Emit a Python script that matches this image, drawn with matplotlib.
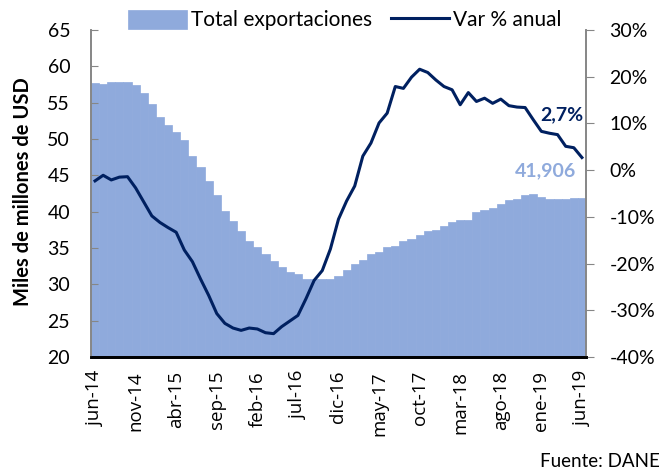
import numpy as np
import matplotlib
matplotlib.use('Agg')
import matplotlib.pyplot as plt
from matplotlib.ticker import FuncFormatter

plt.rcParams['font.family'] = ['Lato', 'DejaVu Sans']

# monthly data jun-14 .. jun-19
months = ['jun', 'jul', 'ago', 'sep', 'oct', 'nov', 'dic', 'ene', 'feb', 'mar', 'abr', 'may']
periods = []
year = 14
for i in range(61):
  m = months[i % 12]
  if m == 'ene':
    year += 1
  periods.append(m + '-' + str(year))

# exportaciones totales, miles de millones de USD (12 meses)
exports = [57.7, 57.6, 57.9, 57.8, 57.9, 57.4, 56.3, 54.8, 53.0, 51.9,
           51.0, 49.8, 47.7, 46.2, 44.2, 42.3, 40.1, 38.7, 37.3, 36.0,
           35.1, 34.2, 33.2, 32.4, 31.7, 31.4, 30.7, 30.7, 30.7, 30.7,
           31.1, 32.0, 32.8, 33.3, 34.2, 34.4, 35.2, 35.3, 36.0, 36.2,
           36.8, 37.3, 37.5, 38.0, 38.6, 38.8, 38.9, 39.9, 40.2, 40.5,
           41.1, 41.6, 41.8, 42.3, 42.4, 42.0, 41.7, 41.8, 41.8, 41.9,
           41.906]

# variacion % anual
var_anual = [-2.3, -1.1, -2.1, -1.5, -1.4, -3.8, -6.8, -9.8, -11.2, -12.3,
             -13.3, -17.1, -19.6, -23.3, -26.8, -30.7, -32.8, -33.8, -34.3, -33.8,
             -34.0, -34.8, -35.0, -33.5, -32.3, -31.1, -27.5, -23.6, -21.5, -16.9,
             -10.5, -6.6, -3.4, 3.0, 5.8, 10.1, 12.2, 17.9, 17.5, 19.9,
             21.6, 20.9, 19.3, 17.9, 17.2, 14.0, 16.6, 14.7, 15.4, 14.3,
             15.2, 13.8, 13.5, 13.4, 10.8, 8.3, 7.9, 7.6, 5.1, 4.8,
             2.7]

area_color = '#8faadc'
line_color = '#002060'
axis_gray = '#868686'

x = np.arange(len(periods))

fig = plt.figure(figsize=(6.71, 4.76), dpi=100)
ax = fig.add_axes([0.1356, 0.25, 0.7377, 0.687])
ax2 = ax.twinx()

bars = ax.bar(x, exports, width=1.0, color=area_color, edgecolor=area_color,
              linewidth=0.5, label='Total exportaciones')
line, = ax2.plot(x, var_anual, color=line_color, linewidth=2.2, label='Var % anual')

ax.set_xlim(-0.5, len(periods) - 0.5)
ax.set_ylim(20, 65)
ax.set_yticks(range(20, 66, 5))
ax2.set_ylim(-40, 30)
ax2.set_yticks(range(-40, 31, 10))
ax2.yaxis.set_major_formatter(FuncFormatter(lambda v, p: '%d%%' % v))

ax.set_xticks(x[::5])
ax.set_xticklabels(periods[::5], rotation=90, fontsize=13.5, family=['Open Sans', 'DejaVu Sans'])
ax.tick_params(axis='x', length=0, pad=10)
ax.tick_params(axis='y', direction='in', length=5, color=axis_gray, labelsize=14, pad=15)
ax2.tick_params(axis='y', direction='out', length=6, color=axis_gray, labelsize=14, pad=11)

for a in (ax, ax2):
  a.spines['top'].set_visible(False)
  a.spines['left'].set_color(axis_gray)
  a.spines['right'].set_color(axis_gray)
  a.spines['left'].set_linewidth(1.2)
  a.spines['right'].set_linewidth(1.2)
  a.spines['bottom'].set_color('black')
  a.spines['bottom'].set_linewidth(2)

ax.set_ylabel('Miles de millones de USD', fontsize=14.5, fontweight='bold')
ax.yaxis.set_label_coords(-0.117, 0.505)

# data labels
ax2.annotate('2,7%', xy=(x[-1], var_anual[-1]), xytext=(1, 31), textcoords='offset points',
             ha='right', va='center', fontsize=14, fontweight='bold', color=line_color)
ax.annotate('{:,.3f}'.format(exports[-1]).replace('.', ','), xy=(x[-1], exports[-1]),
            xytext=(-4, 19.5), textcoords='offset points',
            ha='right', va='center', fontsize=14, fontweight='bold', color=area_color)

ax.legend([bars, line], ['Total exportaciones', 'Var % anual'], loc='center',
          bbox_to_anchor=(0.513, 1.03), ncol=2, frameon=False, fontsize=15,
          handlelength=2.8, handleheight=1.0, columnspacing=0.9, handletextpad=0.2,
          borderaxespad=0, borderpad=0)

fig.text(0.984, 0.012, 'Fuente: DANE', ha='right', va='bottom', fontsize=13.5)

fig.savefig('out.png', dpi=100)
